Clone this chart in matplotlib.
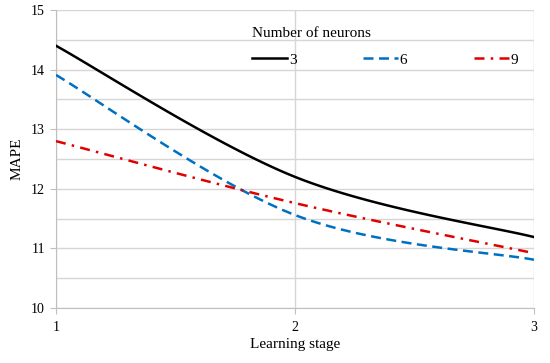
import numpy as np
import matplotlib
matplotlib.use("Agg")
import matplotlib.pyplot as plt
from matplotlib.lines import Line2D

stages = [1, 2, 3]
neurons = ["3", "6", "9"]
mape_3 = [14.40, 12.20, 11.19]
mape_6 = [13.91, 11.56, 10.81]
mape_9 = [12.80, 11.76, 10.92]

plt.rcParams['font.family'] = ['Liberation Serif', 'DejaVu Serif']

def excel_smooth(x, y, n=60):
    x = np.asarray(x, float); y = np.asarray(y, float)
    px = np.concatenate([[x[0]], x, [x[-1]]])
    py = np.concatenate([[y[0]], y, [y[-1]]])
    xs, ys = [], []
    t = np.linspace(0, 1, n)
    for i in range(1, len(px) - 2):
        p0 = np.array([px[i], py[i]]); p3 = np.array([px[i + 1], py[i + 1]])
        c1 = p0 + (np.array([px[i + 1], py[i + 1]]) - np.array([px[i - 1], py[i - 1]])) / 6
        c2 = p3 - (np.array([px[i + 2], py[i + 2]]) - np.array([px[i], py[i]])) / 6
        b = ((1 - t) ** 3)[:, None] * p0 + (3 * (1 - t) ** 2 * t)[:, None] * c1 \
            + (3 * (1 - t) * t ** 2)[:, None] * c2 + (t ** 3)[:, None] * p3
        xs.extend(b[:, 0]); ys.extend(b[:, 1])
    return np.array(xs), np.array(ys)

fig = plt.figure(figsize=(5.5, 3.63), dpi=100)
ax = fig.add_axes([56 / 550, 1 - 308 / 363, (534 - 56) / 550, (308 - 10) / 363])

series = [
    (mape_3, "black", "-"),
    (mape_6, "#0070C0", (0, (4, 2.2))),
    (mape_9, "#E00000", (0, (4, 2.5, 1, 2.5))),
]
handles = []
for (vals, col, ls), lab in zip(series, neurons):
    sx, sy = excel_smooth(stages, vals)
    ax.plot(sx, sy, color=col, linestyle=ls, lw=1.8, zorder=3)
    handles.append(Line2D([], [], color=col, linestyle=ls, lw=1.8))

ax.set_xlim(1, 3)
ax.set_ylim(10, 15)
ax.set_xticks(stages)
ax.set_yticks([10, 11, 12, 13, 14, 15])
ax.set_yticks(np.arange(10, 15.01, 0.5), minor=True)
ax.grid(True, which='both', axis='y', color='#d6d6d6', lw=1, zorder=0)
ax.grid(True, which='major', axis='x', color='#d6d6d6', lw=1, zorder=0)
for s in ['top', 'right']:
    ax.spines[s].set_visible(False)
for s in ['left', 'bottom']:
    ax.spines[s].set_color('#bfbfbf')
ax.tick_params(axis='both', which='both', color='#bfbfbf', length=4.5, labelsize=10)
ax.tick_params(axis='y', which='minor', length=0)
ax.tick_params(axis='x', pad=5)
ax.set_xlabel("Learning stage", fontsize=11, labelpad=3)
ax.set_ylabel("MAPE", fontsize=11, labelpad=5)

leg = ax.legend(handles, neurons, title="Number of neurons", ncol=3, frameon=False,
                loc='upper left', bbox_to_anchor=((249 - 56) / 478, 1 - 14 / 298),
                fontsize=11, title_fontsize=11, handlelength=2.3, handletextpad=0.1,
                columnspacing=4.35, alignment='left', borderaxespad=0, borderpad=0.2,
                labelspacing=0.85)

fig.savefig("out.png", dpi=100)
